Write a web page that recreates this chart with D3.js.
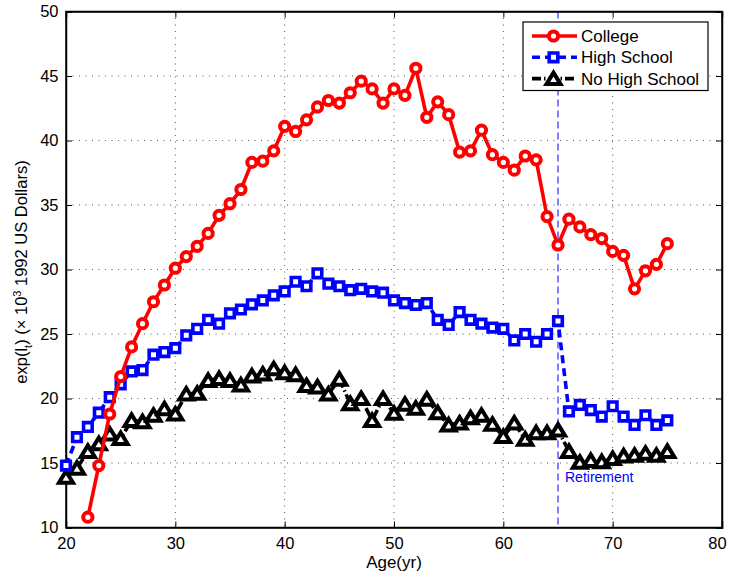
<!DOCTYPE html>
<html>
<head>
<meta charset="utf-8">
<script src="https://cdn.jsdelivr.net/npm/d3@7"></script>
<style>
	body { margin: 0; background: #fff; }
	text { font-family: "Liberation Sans", Arial, Helvetica, sans-serif; }
</style>
</head>
<body>
<div id="draw"></div>
<script>
var collegeAges = d3.range(22, 76);
var college = [10.8, 14.8, 18.8, 21.7, 24.0, 25.8, 27.5, 28.8, 30.1, 31.0,
	31.8, 32.8, 34.2, 35.1, 36.2, 38.3, 38.4, 39.2, 41.1, 40.7,
	41.6, 42.6, 43.1, 42.9, 43.7, 44.6, 44.0, 42.9, 44.0, 43.5,
	45.6, 41.8, 43.0, 42.0, 39.1, 39.2, 40.8, 38.9, 38.3, 37.7,
	38.8, 38.5, 34.1, 31.9, 33.9, 33.3, 32.7, 32.4, 31.4, 31.1,
	28.5, 29.9, 30.4, 32.0];

var schoolAges = d3.range(20, 76);
var highSchool = [14.8, 17.0, 17.8, 18.9, 20.1, 21.1, 22.1, 22.2, 23.4, 23.6,
	23.9, 24.9, 25.4, 26.1, 25.8, 26.6, 26.9, 27.3, 27.6, 28.0,
	28.3, 29.05, 28.7, 29.7, 28.9, 28.7, 28.4, 28.5, 28.3, 28.2,
	27.6, 27.4, 27.25, 27.4, 26.1, 25.7, 26.7, 26.1, 25.8, 25.5,
	25.4, 24.5, 25.0, 24.4, 25.0, 26.0, 19.0, 19.5, 19.1, 18.6,
	19.4, 18.6, 17.95, 18.7, 17.95, 18.3];
var noHighSchool = [13.9, 14.6, 15.9, 16.5, 17.25, 16.9, 18.3, 18.2, 18.7, 19.2,
	18.8, 20.35, 20.4, 21.4, 21.55, 21.4, 21.05, 21.75, 21.9, 22.3,
	22.0, 21.85, 21.0, 20.9, 20.35, 21.5, 19.6, 20.0, 18.3, 20.0,
	18.85, 19.55, 19.25, 19.95, 18.9, 17.95, 18.1, 18.5, 18.7, 18.0,
	17.05, 18.1, 16.85, 17.35, 17.35, 17.55, 15.9, 15.05, 15.2, 15.1,
	15.35, 15.55, 15.6, 15.75, 15.6, 15.9];

var xTicks = [20, 30, 40, 50, 60, 70, 80];
var yTicks = [10, 15, 20, 25, 30, 35, 40, 45, 50];
var retirementAge = 65;
var legendNames = ["College", "High School", "No High School"];

var width = 730, height = 571;
var plotLeft = 66, plotRight = 722, plotTop = 11.5, plotBottom = 527.5;

var x = d3.scaleLinear().domain([20, 80]).range([plotLeft, plotRight]);
var y = d3.scaleLinear().domain([10, 50]).range([plotBottom, plotTop]);

var svg = d3.select("#draw").append("svg")
	.attr("width", width)
	.attr("height", height);

// grid
svg.append("g").selectAll("line")
	.data(xTicks.slice(1, -1))
	.enter().append("line")
	.attr("x1", function(d){ return x(d); })
	.attr("x2", function(d){ return x(d); })
	.attr("y1", plotTop).attr("y2", plotBottom)
	.attr("stroke", "#555").attr("stroke-width", 1)
	.attr("stroke-dasharray", "1,5.5");
svg.append("g").selectAll("line")
	.data(yTicks.slice(1, -1))
	.enter().append("line")
	.attr("y1", function(d){ return y(d); })
	.attr("y2", function(d){ return y(d); })
	.attr("x1", plotLeft).attr("x2", plotRight)
	.attr("stroke", "#555").attr("stroke-width", 1)
	.attr("stroke-dasharray", "1,5.5");

// axes
var xAxis = svg.append("g")
	.attr("transform", "translate(0," + plotBottom + ")")
	.call(d3.axisBottom(x).tickValues(xTicks).tickSize(-6).tickPadding(10));
var xAxisTop = svg.append("g")
	.attr("transform", "translate(0," + plotTop + ")")
	.call(d3.axisTop(x).tickValues(xTicks).tickSize(-6).tickFormat(""));
var yAxis = svg.append("g")
	.attr("transform", "translate(" + plotLeft + ",0)")
	.call(d3.axisLeft(y).tickValues(yTicks).tickSize(-6).tickPadding(7.5));
var yAxisRight = svg.append("g")
	.attr("transform", "translate(" + plotRight + ",0)")
	.call(d3.axisRight(y).tickValues(yTicks).tickSize(-6).tickFormat(""));

[xAxis, xAxisTop, yAxis, yAxisRight].forEach(function(a){
	a.select(".domain").attr("stroke", "#000").attr("stroke-width", 1.5);
	a.selectAll(".tick line").attr("stroke", "#000");
	a.selectAll("text")
		.attr("fill", "#000")
		.style("font-size", "16.5px")
		.style("font-family", "'Liberation Sans', Arial, sans-serif");
});
// keep the last x label inside the window
xAxis.selectAll(".tick text")
	.filter(function(d){ return d === 80; })
	.attr("dx", -5);

svg.append("rect")
	.attr("x", plotLeft).attr("y", plotTop)
	.attr("width", plotRight - plotLeft).attr("height", plotBottom - plotTop)
	.attr("fill", "none").attr("stroke", "#000").attr("stroke-width", 1.5);

// retirement line
svg.append("line")
	.attr("x1", x(retirementAge)).attr("x2", x(retirementAge))
	.attr("y1", plotTop).attr("y2", plotBottom)
	.attr("stroke", "#0000ff").attr("stroke-width", 1)
	.attr("stroke-dasharray", "7,4");
svg.append("text")
	.attr("x", x(retirementAge) + 7).attr("y", 482)
	.attr("fill", "#0000ff")
	.style("font-size", "14px")
	.text("Retirement");

var line = d3.line()
	.x(function(d){ return x(d[0]); })
	.y(function(d){ return y(d[1]); });

function pairs(ages, vals){
	return ages.map(function(a, i){ return [a, vals[i]]; });
}

var circlePath = function(){ return d3.symbol().type(d3.symbolCircle).size(Math.PI * 4.6 * 4.6)(); };
var squarePath = function(){ return "M-4.3,-4.3H4.3V4.3H-4.3Z"; };
var trianglePath = function(){ return "M0,-6L7,5.5L-7,5.5Z"; };

var series = [
	{ data: pairs(schoolAges, noHighSchool), color: "#000", dash: "9,3,1.5,3", marker: trianglePath, mw: 4.0 },
	{ data: pairs(schoolAges, highSchool), color: "#0000ff", dash: "8,5", marker: squarePath, mw: 3.6 },
	{ data: pairs(collegeAges, college), color: "#ff0000", dash: null, marker: circlePath, mw: 4.0 }
];

series.forEach(function(s){
	svg.append("path")
		.datum(s.data)
		.attr("d", line)
		.attr("fill", "none")
		.attr("stroke", s.color)
		.attr("stroke-width", 3.6)
		.attr("stroke-dasharray", s.dash);
	svg.append("g").selectAll("path")
		.data(s.data)
		.enter().append("path")
		.attr("transform", function(d){ return "translate(" + x(d[0]) + "," + y(d[1]) + ")"; })
		.attr("d", s.marker)
		.attr("fill", "#fff")
		.attr("stroke", s.color)
		.attr("stroke-width", s.mw);
});

// legend
var legend = svg.append("g");
legend.append("rect")
	.attr("x", 523).attr("y", 22)
	.attr("width", 185).attr("height", 68.5)
	.attr("fill", "#fff").attr("stroke", "#000").attr("stroke-width", 1.2);
var legendItems = [series[2], series[1], series[0]];
legendItems.forEach(function(s, i){
	var ly = 36 + i * 21.3;
	legend.append("line")
		.attr("x1", 532).attr("x2", 577)
		.attr("y1", ly).attr("y2", ly)
		.attr("stroke", s.color).attr("stroke-width", 3.6)
		.attr("stroke-dasharray", s.dash);
	legend.append("path")
		.attr("transform", "translate(553.5," + ly + ")")
		.attr("d", s.marker)
		.attr("fill", "#fff")
		.attr("stroke", s.color)
		.attr("stroke-width", s.mw);
	legend.append("text")
		.attr("x", 581).attr("y", ly + 6)
		.attr("fill", "#000")
		.style("font-size", "17px")
		.text(legendNames[i]);
});

// axis labels
svg.append("text")
	.attr("x", (plotLeft + plotRight) / 2).attr("y", 568)
	.attr("text-anchor", "middle")
	.style("font-size", "17px")
	.text("Age(yr)");

var yl = svg.append("text")
	.attr("transform", "translate(27,272) rotate(-90)")
	.attr("text-anchor", "middle")
	.style("font-size", "16.5px");
yl.append("tspan").text("exp(l");
yl.append("tspan").attr("dy", 5).style("font-size", "11px").text("t");
yl.append("tspan").attr("dy", -5).text(") (\u00d7 10");
yl.append("tspan").attr("dy", -6).style("font-size", "11px").text("3");
yl.append("tspan").attr("dy", 6).text(" 1992 US Dollars)");
</script>
</body>
</html>
